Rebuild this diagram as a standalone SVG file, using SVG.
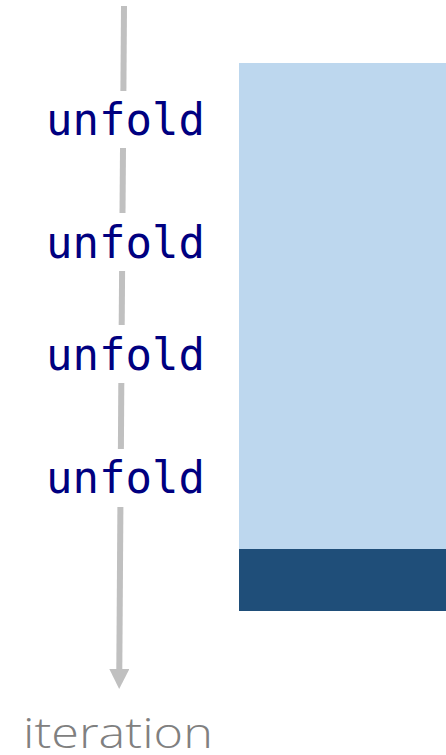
<svg xmlns="http://www.w3.org/2000/svg" width="446" height="755" viewBox="0 0 446 755">
  <style>
    .lbl { font-family: "DejaVu Sans Mono", "Liberation Mono", monospace; font-size: 44px; fill: #000080; text-anchor: middle; }
    .axis { font-family: "Open Sans", "Liberation Sans", sans-serif; font-weight: 300; font-size: 43px; fill: #808080; }
    .seg { stroke: #c0c0c0; stroke-width: 6; fill: none; }
  </style>
  <defs>
    <marker id="head" markerUnits="userSpaceOnUse" markerWidth="20" markerHeight="20" refX="0" refY="9" orient="auto" viewBox="0 0 18 18">
      <path d="M0,0 L18,9 L0,18 Z" fill="#c0c0c0"/>
    </marker>
  </defs>
  <rect width="446" height="755" fill="#ffffff"/>

  <!-- data block -->
  <g id="block">
    <rect x="239" y="63" width="207" height="486" fill="#bdd7ee"/>
    <rect x="239" y="549" width="207" height="62" fill="#1f4e79"/>
  </g>

  <!-- iteration axis -->
  <g id="connectors">
    <line class="seg" x1="124" y1="6" x2="123.4" y2="91"/>
    <line class="seg" x1="123" y1="148" x2="122.5" y2="213"/>
    <line class="seg" x1="122.1" y1="271" x2="121.7" y2="325"/>
    <line class="seg" x1="121.3" y1="383" x2="120.9" y2="449"/>
    <line class="seg" x1="120.4" y1="507" x2="119.3" y2="669" marker-end="url(#head)"/>
  </g>

  <g id="unfold1"><text class="lbl" x="125.5" y="135">unfold</text></g>
  <g id="unfold2"><text class="lbl" x="125.5" y="258">unfold</text></g>
  <g id="unfold3"><text class="lbl" x="125.5" y="370">unfold</text></g>
  <g id="unfold4"><text class="lbl" x="125.5" y="493">unfold</text></g>

  <g id="axis-label"><text class="axis" x="23" y="748" textLength="190" lengthAdjust="spacingAndGlyphs">iteration</text></g>
</svg>
